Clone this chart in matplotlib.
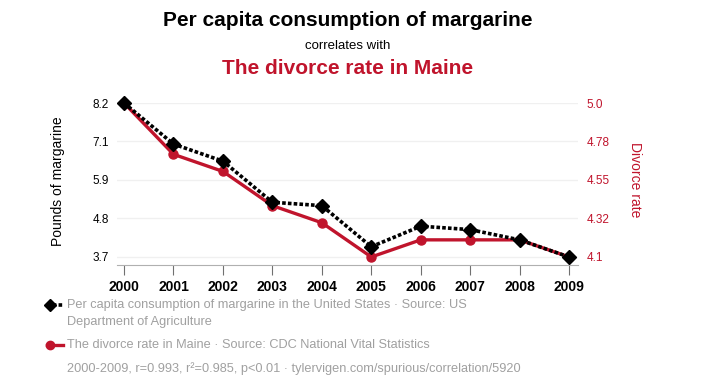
"""
Spurious correlation chart: margarine consumption vs. divorce rate in Maine.
"""

import matplotlib

matplotlib.use("Agg")

import matplotlib.pyplot as plt
from matplotlib.lines import Line2D

plt.rcParams["font.family"] = ["Liberation Sans", "DejaVu Sans"]

RED = "#c0142c"
GRID = "#f0f0f0"
LEGEND_GRAY = "#a0a0a0"

years = [2000, 2001, 2002, 2003, 2004, 2005, 2006, 2007, 2008, 2009]
margarine = [8.2, 7.0, 6.5, 5.3, 5.2, 4.0, 4.6, 4.5, 4.2, 3.7]
divorce = [5.0, 4.7, 4.6, 4.4, 4.3, 4.1, 4.2, 4.2, 4.2, 4.1]

left_ticks = [3.7, 4.825, 5.95, 7.075, 8.2]
left_labels = ["3.7", "4.8", "5.9", "7.1", "8.2"]
right_ticks = [4.1, 4.325, 4.55, 4.775, 5.0]
right_labels = ["4.1", "4.32", "4.55", "4.78", "5.0"]

W, H = 706, 389


def fx(px):
    return px / W


def fy(py):
    return 1 - py / H


fig = plt.figure(figsize=(W / 100, H / 100), dpi=100)
ax = fig.add_axes([fx(117), fy(265), fx(578 - 117), (265 - 103) / H])
ax2 = ax.twinx()

ax.set_xlim(1999.858, 2009.18)
ax.set_ylim(3.466, 8.2)
ax2.set_ylim(4.053, 5.0)

# gridlines live on the lower (right-axis) layer so both lines sit above them
for t in right_ticks:
    ax2.axhline(t, color=GRID, lw=1, zorder=0)

ax2.plot(years, divorce, color=RED, lw=2.4, marker="o", ms=6.5,
         clip_on=False, zorder=3)
ax.plot(years, margarine, color="black", lw=2.6, ls=(0, (1, 0.6)),
        marker="D", ms=7.5, clip_on=False, zorder=4)
ax.set_zorder(ax2.get_zorder() + 1)
ax.patch.set_visible(False)

for a in (ax, ax2):
    for s in a.spines.values():
        s.set_visible(False)
ax.spines["bottom"].set_visible(True)
ax.spines["bottom"].set_color("#b0b0b0")

ax.set_xticks(years)
ax.set_xticklabels([str(y) for y in years], fontsize=10, fontweight="bold")
ax.tick_params(axis="x", length=7, color="#707070", pad=4)

ax.set_yticks(left_ticks)
ax.set_yticklabels(left_labels, fontsize=8.5)
ax.tick_params(axis="y", length=0, pad=6)
ax2.set_yticks(right_ticks)
ax2.set_yticklabels(right_labels, fontsize=8.5, color=RED)
ax2.tick_params(axis="y", length=0, pad=6)

fig.text(fx(58), fy(181), "Pounds of margarine", rotation=90,
         ha="center", va="center", fontsize=10)
fig.text(fx(635), fy(180), "Divorce rate", rotation=270,
         ha="center", va="center", fontsize=10, color=RED)

fig.text(fx(348), fy(21), "Per capita consumption of margarine",
         ha="center", va="center", fontsize=15, fontweight="bold")
fig.text(fx(348), fy(46), "correlates with",
         ha="center", va="center", fontsize=9.5)
fig.text(fx(348), fy(69), "The divorce rate in Maine",
         ha="center", va="center", fontsize=15, fontweight="bold", color=RED)

# legend, drawn by hand to match the source layout
fig.add_artist(Line2D([fx(47), fx(63)], [fy(305), fy(305)],
                      transform=fig.transFigure, color="black", lw=2.6,
                      ls=(0, (1, 0.6))))
fig.add_artist(Line2D([fx(50)], [fy(305)], transform=fig.transFigure,
                      color="black", marker="D", ms=6))
fig.add_artist(Line2D([fx(47), fx(63)], [fy(345), fy(345)],
                      transform=fig.transFigure, color=RED, lw=2.4))
fig.add_artist(Line2D([fx(50)], [fy(345)], transform=fig.transFigure,
                      color=RED, marker="o", ms=6))

fig.text(fx(67), fy(305),
         "Per capita consumption of margarine in the United States \u00b7 Source: US",
         ha="left", va="center", fontsize=9.2, color=LEGEND_GRAY)
fig.text(fx(67), fy(322), "Department of Agriculture",
         ha="left", va="center", fontsize=9.2, color=LEGEND_GRAY)
fig.text(fx(67), fy(345),
         "The divorce rate in Maine \u00b7 Source: CDC National Vital Statistics",
         ha="left", va="center", fontsize=9.2, color=LEGEND_GRAY)
fig.text(fx(67), fy(369),
         "2000-2009, r=0.993, r\u00b2=0.985, p<0.01 \u00b7 tylervigen.com/spurious/correlation/5920",
         ha="left", va="center", fontsize=9.2, color=LEGEND_GRAY)

fig.savefig("out.png", dpi=100, facecolor="white")
